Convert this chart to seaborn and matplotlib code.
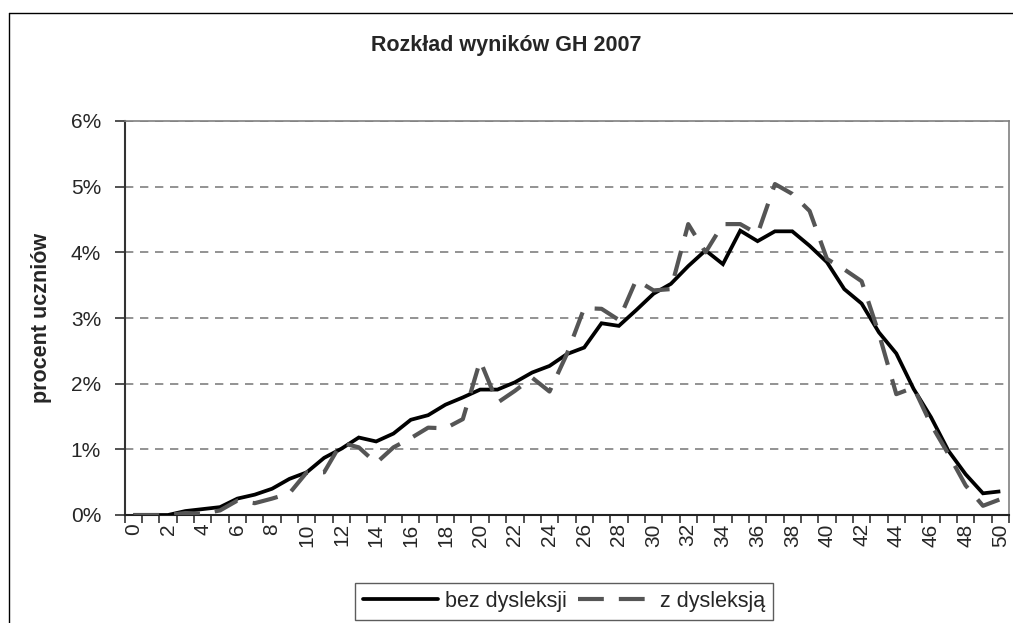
import numpy as np
import pandas as pd
import matplotlib
matplotlib.use("Agg")
import matplotlib.pyplot as plt
from matplotlib.lines import Line2D
from matplotlib.ticker import FixedLocator, FuncFormatter
import seaborn as sns

# ---- data ----
scores = list(range(0, 51))
bez_dysleksji = [0.00, 0.00, 0.00, 0.06, 0.09, 0.12, 0.25, 0.31, 0.40, 0.55,
                 0.65, 0.87, 1.01, 1.18, 1.12, 1.24, 1.45, 1.52, 1.68, 1.79,
                 1.91, 1.91, 2.02, 2.17, 2.27, 2.45, 2.55, 2.92, 2.88, 3.12,
                 3.37, 3.52, 3.79, 4.03, 3.82, 4.33, 4.17, 4.32, 4.32, 4.10,
                 3.85, 3.44, 3.22, 2.78, 2.46, 1.92, 1.49, 0.98, 0.62, 0.33,
                 0.36]
z_dysleksja = [0.00, 0.00, 0.00, 0.03, 0.02, 0.07, 0.22, 0.18, 0.25, 0.33,
               0.65, 0.65, 1.10, 1.03, 0.79, 1.03, 1.17, 1.33, 1.32, 1.46,
               2.35, 1.71, 1.89, 2.09, 1.88, 2.45, 3.15, 3.14, 2.97, 3.58,
               3.42, 3.44, 4.43, 4.00, 4.43, 4.43, 4.28, 5.04, 4.89, 4.63,
               3.90, 3.74, 3.56, 2.76, 1.84, 1.94, 1.38, 0.93, 0.45, 0.14,
               0.24]
series_names = ["bez dysleksji", "z dysleksją"]
y_ticks = [0, 1, 2, 3, 4, 5, 6]
title = "Rozkład wyników GH 2007"
ylabel = "procent uczniów"

df = pd.DataFrame({
    "wynik": scores * 2,
    "procent": bez_dysleksji + z_dysleksja,
    "grupa": [series_names[0]] * len(scores) + [series_names[1]] * len(scores),
})

sns.set_style("white")
plt.rcParams["font.family"] = ["Liberation Sans", "DejaVu Sans"]

W, H = 1013, 623
fig = plt.figure(figsize=(W / 100, H / 100), dpi=100)
ax = fig.add_axes([124.7 / W, 1 - 515 / H, (1009 - 124.7) / W, (515 - 121) / H])

DASH = (6.2, 3.6)
sns.lineplot(data=df, x="wynik", y="procent", hue="grupa", style="grupa",
             palette={series_names[0]: "#000000", series_names[1]: "#555555"},
             dashes={series_names[0]: "", series_names[1]: DASH},
             ax=ax, legend=False, zorder=3)
lw = {0: 2.7, 1: 3.0}
for i, ln in enumerate(ax.get_lines()):
    ln.set_linewidth(lw.get(i, 2.7))
    ln.set_solid_capstyle("butt")
    ln.set_dash_capstyle("butt")
    ln.set_solid_joinstyle("miter")

ax.set_xlim(-0.5, 50.5)
ax.set_ylim(0, 6)

# ticks
ax.set_xticks(scores[::2])
ax.set_xticklabels([str(s) for s in scores[::2]], rotation=90, fontsize=15)
ax.xaxis.set_minor_locator(FixedLocator(np.arange(-0.5, 51, 1)))
ax.tick_params(axis="x", which="major", length=0, pad=6)
ax.tick_params(axis="x", which="minor", length=6, width=1.2, color="#333333", direction="out", bottom=True)
ax.set_yticks(y_ticks)
ax.yaxis.set_major_formatter(FuncFormatter(lambda v, p: f"{int(v)}%"))
ax.tick_params(axis="y", length=7, width=1.2, color="#333333", direction="out", left=True, pad=10, labelsize=15)

ax.yaxis.grid(True, color="#808080", linestyle=(0, (5, 4)), linewidth=1.2)
ax.xaxis.grid(False)
ax.set_axisbelow(True)

for side in ["top", "right"]:
    ax.spines[side].set_color("#808080")
    ax.spines[side].set_linewidth(1.2)
ax.spines["left"].set_color("#333333")
ax.spines["left"].set_linewidth(1.5)
ax.spines["bottom"].set_color("#222222")
ax.spines["bottom"].set_linewidth(1.5)

ax.set_xlabel("")
ax.set_ylabel(ylabel, fontsize=15.5, fontweight="bold")
ax.yaxis.set_label_coords((52 - 124.7) / (1009 - 124.7), 0.5)

fig.text(0.5, 1 - 45 / H, title, ha="center", va="center", fontsize=15.5, fontweight="bold")

# legend
handles = [Line2D([], [], color="#000000", lw=2.7),
           Line2D([], [], color="#555555", lw=3.0, linestyle=(0, DASH))]
leg = fig.legend(handles, series_names, loc="center", ncol=2,
                 bbox_to_anchor=(564 / W, 1 - 601.5 / H), fontsize=15.5,
                 frameon=True, fancybox=False, edgecolor="#333333",
                 handlelength=3.5, handletextpad=0.3, columnspacing=0.55,
                 borderpad=0.35, borderaxespad=0)
leg.get_frame().set_linewidth(1.0)

# outer chart border
fig.add_artist(Line2D([8.5 / W, 8.5 / W], [1 - 13 / H, -0.05], color="black", lw=1.0, transform=fig.transFigure))
fig.add_artist(Line2D([8.5 / W, 1.05], [1 - 13 / H, 1 - 13 / H], color="black", lw=1.0, transform=fig.transFigure))

fig.savefig("out.png", dpi=100, facecolor="white")
